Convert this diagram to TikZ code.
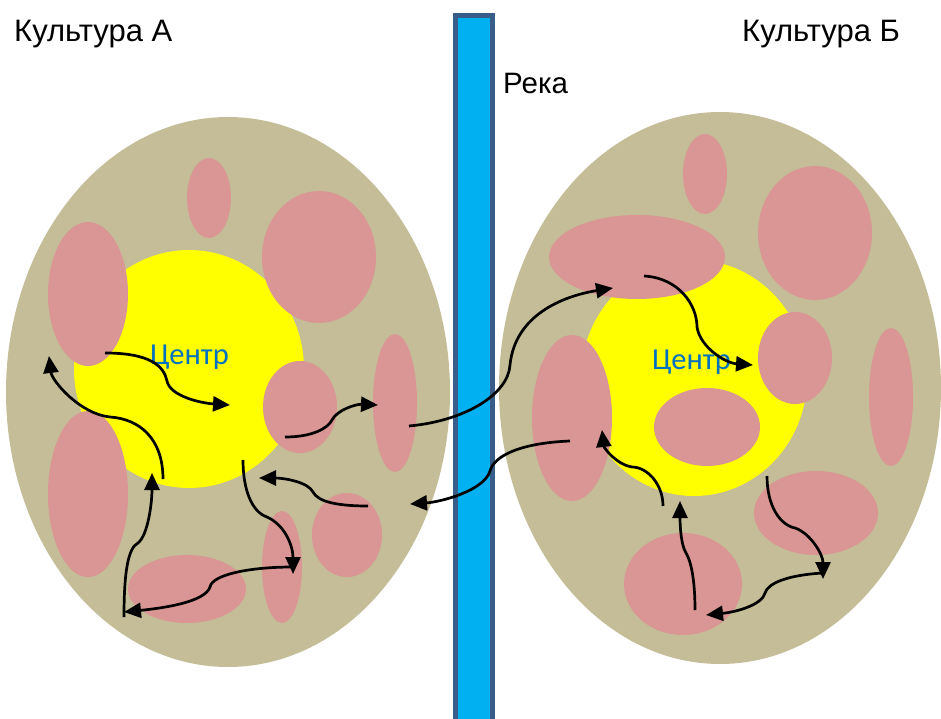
\documentclass[tikz,border=0pt]{standalone}
\usepackage{fontspec}
\setmainfont{Liberation Sans}
\newfontfamily\centrefont{Carlito}
\usetikzlibrary{arrows.meta,shapes.geometric}
\definecolor{land}{HTML}{C4BD97}
\definecolor{region}{HTML}{D99694}
\definecolor{core}{HTML}{FFFF00}
\definecolor{water}{HTML}{00B0F0}
\definecolor{bank}{HTML}{385D8A}
\definecolor{centretext}{HTML}{0070C0}
\begin{document}
\begin{tikzpicture}[x=1pt,y=-1pt,
  blob/.style={ellipse,draw=none,inner sep=0pt,outer sep=0pt},
  culture/.style={blob,fill=land},
  centre/.style={blob,fill=core},
  patch/.style={blob,fill=region},
  flow/.style={line width=2.7pt,-{Triangle[length=17pt,width=15pt]}},
  title/.style={font=\fontsize{31}{36}\selectfont,anchor=base west,inner sep=0pt},
  centrelabel/.style={font=\centrefont\fontsize{30.5}{36}\selectfont,text=centretext,anchor=base west,inner sep=0pt}]
\useasboundingbox (0,0) rectangle (941,719);

% ---- culture A ----
\node[culture,minimum width=444pt,minimum height=550pt] (cultA) at (228,392) {};
\node[centre,minimum width=230pt,minimum height=238pt] (coreA) at (189,369) {};
\node[patch,minimum width=44pt,minimum height=80pt]  (a1) at (209,198) {};
\node[patch,minimum width=114pt,minimum height=132pt] (a2) at (319,257) {};
\node[patch,minimum width=80pt,minimum height=144pt] (a3) at (88,294) {};
\node[patch,minimum width=74pt,minimum height=92pt]  (a4) at (300,407) {};
\node[patch,minimum width=44pt,minimum height=138pt] (a5) at (395,403) {};
\node[patch,minimum width=80pt,minimum height=166pt] (a6) at (88,494) {};
\node[patch,minimum width=118pt,minimum height=68pt] (a7) at (187,589) {};
\node[patch,minimum width=40pt,minimum height=112pt] (a8) at (282,567) {};
\node[patch,minimum width=70pt,minimum height=84pt]  (a9) at (347,535) {};
\node[centrelabel] (labA) at (150,364) {Центр};

% ---- culture B ----
\node[culture,minimum width=442pt,minimum height=552pt] (cultB) at (720,388) {};
\node[centre,minimum width=226pt,minimum height=236pt] (coreB) at (694,378) {};
\node[patch,minimum width=44pt,minimum height=80pt]  (b1) at (705,174) {};
\node[patch,minimum width=114pt,minimum height=134pt] (b2) at (815,233) {};
\node[patch,minimum width=176pt,minimum height=84pt] (b3) at (637,257) {};
\node[patch,minimum width=74pt,minimum height=92pt]  (b4) at (795,358) {};
\node[patch,minimum width=44pt,minimum height=138pt] (b5) at (891,397) {};
\node[patch,minimum width=80pt,minimum height=166pt] (b6) at (572,418) {};
\node[patch,minimum width=106pt,minimum height=78pt] (b7) at (707,427) {};
\node[patch,minimum width=124pt,minimum height=84pt] (b8) at (816,513) {};
\node[patch,minimum width=118pt,minimum height=102pt] (b9) at (683,584) {};
\node[centrelabel] (labB) at (652,369) {Центр};

% ---- river ----
\node[draw=bank,fill=water,line width=4.5pt,minimum width=37pt,minimum height=740pt,
      anchor=north,inner sep=0pt] (river) at (474,13.5) {};

% ---- titles ----
\node[title] (titleA) at (14,42) {Культура А};
\node[title] (titleB) at (742,42) {Культура Б};
\node[title,font=\fontsize{29.5}{36}\selectfont] (riverlabel) at (503,94) {Река};

% ---- movements inside culture A ----
\coordinate (p1s) at (105,353); \coordinate (p1m) at (167,381); \coordinate (p1e) at (230,405);
\draw[flow] (p1s) .. controls +(45,0) and +(-3,-15) .. (p1m) .. controls +(3,15) and +(-30,-2) .. (p1e);

\coordinate (p2s) at (163,479); \coordinate (p2m) at (110,417); \coordinate (p2e) at (49,356);
\draw[flow] (p2s) .. controls +(0,-40) and +(30,2) .. (p2m) .. controls +(-30,-3) and +(3,25) .. (p2e);

\coordinate (p3s) at (124,617); \coordinate (p3m) at (138,543); \coordinate (p3e) at (152,473);
\draw[flow] (p3s) .. controls +(0,-45) and +(-10,5) .. (p3m) .. controls +(10,-8) and +(0,30) .. (p3e);

\coordinate (p4s) at (243,460); \coordinate (p4m) at (267,517); \coordinate (p4e) at (293,574);
\draw[flow] (p4s) .. controls +(0,30) and +(-15,-5) .. (p4m) .. controls +(18,8) and +(0,-28) .. (p4e);

\coordinate (p5s) at (293,567); \coordinate (p5m) at (210,587); \coordinate (p5e) at (124,612);
\draw[flow] (p5s) .. controls +(-45,0) and +(2,-12) .. (p5m) .. controls +(-5,15) and +(40,-4) .. (p5e);

\coordinate (p6s) at (285,437); \coordinate (p6m) at (332,420); \coordinate (p6e) at (378,405);
\draw[flow] (p6s) .. controls +(28,0) and +(-4,8) .. (p6m) .. controls +(5,-10) and +(-22,-1) .. (p6e);

\coordinate (p7s) at (368,506); \coordinate (p7m) at (313,492); \coordinate (p7e) at (259,478);
\draw[flow] (p7s) .. controls +(-30,0) and +(5,10) .. (p7m) .. controls +(-5,-10) and +(25,0) .. (p7e);

% ---- movements across the river ----
\coordinate (x1s) at (409,426); \coordinate (x1m) at (510,365); \coordinate (x1e) at (613,288);
\draw[flow] (x1s) .. controls +(55,-5) and +(-2,30) .. (x1m) .. controls +(5,-50) and +(-50,8) .. (x1e);

\coordinate (x2s) at (570,441); \coordinate (x2m) at (490,471); \coordinate (x2e) at (410,504);
\draw[flow] (x2s) .. controls +(-50,2) and +(4,-15) .. (x2m) .. controls +(-6,20) and +(30,-2) .. (x2e);

% ---- movements inside culture B ----
\coordinate (q1s) at (644,276); \coordinate (q1m) at (697,327); \coordinate (q1e) at (753,365);
\draw[flow] (q1s) .. controls +(35,2) and +(0,-22) .. (q1m) .. controls +(3,20) and +(-28,-2) .. (q1e);

\coordinate (q2s) at (663,506); \coordinate (q2m) at (632,467); \coordinate (q2e) at (602,430);
\draw[flow] (q2s) .. controls +(0,-22) and +(15,0) .. (q2m) .. controls +(-15,-2) and +(2,18) .. (q2e);

\coordinate (q3s) at (695,610); \coordinate (q3m) at (686,553); \coordinate (q3e) at (680,501);
\draw[flow] (q3s) .. controls +(0,-30) and +(5,8) .. (q3m) .. controls +(-5,-8) and +(0,25) .. (q3e);

\coordinate (q4s) at (767,476); \coordinate (q4m) at (795,528); \coordinate (q4e) at (823,579);
\draw[flow] (q4s) .. controls +(0,30) and +(-15,-3) .. (q4m) .. controls +(15,5) and +(0,-25) .. (q4e);

\coordinate (q5s) at (823,573); \coordinate (q5m) at (765,593); \coordinate (q5e) at (706,615);
\draw[flow] (q5s) .. controls +(-35,2) and +(3,-10) .. (q5m) .. controls +(-3,12) and +(30,-3) .. (q5e);
\end{tikzpicture}
\end{document}
